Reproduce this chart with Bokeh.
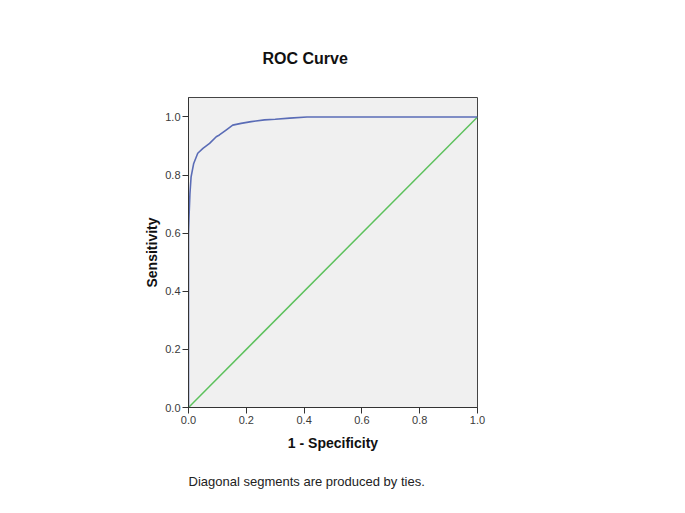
from bokeh.plotting import figure
from bokeh.models import Range1d, Title, FixedTicker
from bokeh.embed import file_html
from bokeh.resources import INLINE

# ROC curve
fpr = [0.0, 0.0, 0.002, 0.005, 0.009, 0.018, 0.032, 0.050, 0.073, 0.096, 0.107,
       0.130, 0.153, 0.182, 0.217, 0.263, 0.300, 0.350, 0.410, 1.0]
tpr = [0.0, 0.600, 0.660, 0.737, 0.794, 0.840, 0.875, 0.892, 0.909, 0.932, 0.938,
       0.955, 0.972, 0.978, 0.984, 0.990, 0.992, 0.996, 1.0, 1.0]
diag_x = [0.0, 1.0]
diag_y = [0.0, 1.0]
ticks = [0.0, 0.2, 0.4, 0.6, 0.8, 1.0]
tick_labels = {0.0: "0.0", 0.2: "0.2", 0.4: "0.4", 0.6: "0.6", 0.8: "0.8", 1.0: "1.0"}

FONT = "Liberation Sans"

p = figure(width=677, height=507, output_backend="svg", toolbar_location=None,
           x_range=Range1d(0, 1.0), y_range=Range1d(0, 1.067),
           min_border_left=188, min_border_right=200, min_border_top=97,
           min_border_bottom=100)

p.title.text = "ROC Curve"
p.title.text_font = FONT
p.title.text_font_size = "16px"
p.title.text_font_style = "bold"
p.title.text_color = "#111111"
p.title.align = "left"
p.title.offset = 74
p.title.standoff = 61

p.background_fill_color = "#F0F0F0"
p.border_fill_color = "white"
p.outline_line_color = "#444444"
p.outline_line_width = 1
p.xgrid.visible = False
p.ygrid.visible = False

for ax in (p.xaxis[0], p.yaxis[0]):
    ax.ticker = FixedTicker(ticks=ticks)
    ax.major_label_overrides = tick_labels
    ax.minor_tick_line_color = None
    ax.major_tick_in = 0
    ax.major_tick_out = 6
    ax.major_tick_line_color = "#333333"
    ax.axis_line_color = "#333333"
    ax.major_label_text_font = FONT
    ax.major_label_text_font_size = "11px"
    ax.major_label_text_color = "#3a3a3a"
    ax.major_label_standoff = 2
    ax.axis_label_text_font = FONT
    ax.axis_label_text_font_size = "14px"
    ax.axis_label_text_font_style = "bold"
    ax.axis_label_text_color = "#111111"

p.xaxis.axis_label = "1 - Specificity"
p.xaxis.axis_label_standoff = 8
p.yaxis.axis_label = "Sensitivity"
p.yaxis.axis_label_standoff = 2
p.yaxis.major_label_orientation = "horizontal"

p.line(diag_x, diag_y, line_color="#5CC15C", line_width=1.5)
p.line(fpr, tpr, line_color="#5A6CB6", line_width=1.6)

foot = Title(text="Diagonal segments are produced by ties.", align="left",
             text_font=FONT, text_font_size="13px", text_font_style="normal",
             text_color="#222222", standoff=37)
p.add_layout(foot, "below")

open("out.html", "w").write(file_html(p, INLINE))
